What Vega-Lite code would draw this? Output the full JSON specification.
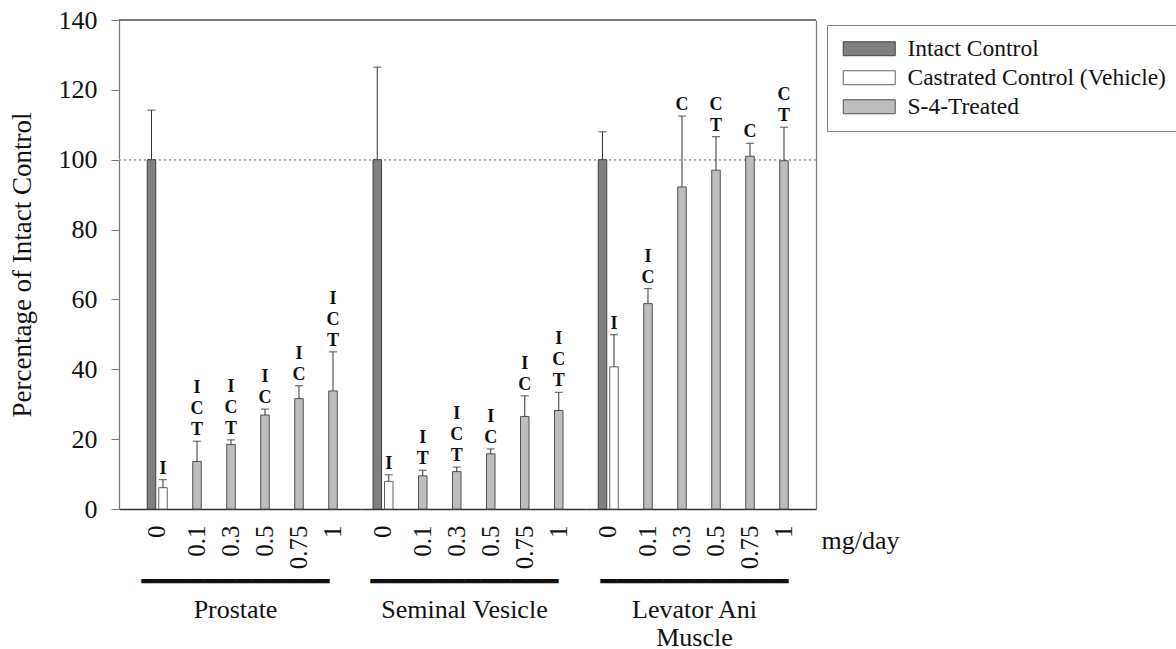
{
  "$schema": "https://vega.github.io/schema/vega-lite/v6.json",
  "background": "white",
  "padding": {"left": 8, "top": 7, "right": 0, "bottom": 0},
  "bounds": "flush",
  "spacing": 0,
  "datasets": {
    "d": [
      {"tissue": "Prostate", "dose": "0", "series": "Intact Control", "value": 100, "upper": 114.2, "sig": ""},
      {"tissue": "Prostate", "dose": "0", "series": "Castrated Control (Vehicle)", "value": 6.1, "upper": 8.4, "sig": "I"},
      {"tissue": "Prostate", "dose": "0.1", "series": "S-4-Treated", "value": 13.6, "upper": 19.4, "sig": "I\nC\nT"},
      {"tissue": "Prostate", "dose": "0.3", "series": "S-4-Treated", "value": 18.5, "upper": 19.8, "sig": "I\nC\nT"},
      {"tissue": "Prostate", "dose": "0.5", "series": "S-4-Treated", "value": 26.9, "upper": 28.6, "sig": "I\nC"},
      {"tissue": "Prostate", "dose": "0.75", "series": "S-4-Treated", "value": 31.6, "upper": 35.3, "sig": "I\nC"},
      {"tissue": "Prostate", "dose": "1", "series": "S-4-Treated", "value": 33.8, "upper": 45.0, "sig": "I\nC\nT"},
      {"tissue": "Seminal Vesicle", "dose": "0", "series": "Intact Control", "value": 100, "upper": 126.5, "sig": ""},
      {"tissue": "Seminal Vesicle", "dose": "0", "series": "Castrated Control (Vehicle)", "value": 7.9, "upper": 9.8, "sig": "I"},
      {"tissue": "Seminal Vesicle", "dose": "0.1", "series": "S-4-Treated", "value": 9.5, "upper": 11.1, "sig": "I\nT"},
      {"tissue": "Seminal Vesicle", "dose": "0.3", "series": "S-4-Treated", "value": 10.7, "upper": 12.0, "sig": "I\nC\nT"},
      {"tissue": "Seminal Vesicle", "dose": "0.5", "series": "S-4-Treated", "value": 15.8, "upper": 17.2, "sig": "I\nC"},
      {"tissue": "Seminal Vesicle", "dose": "0.75", "series": "S-4-Treated", "value": 26.5, "upper": 32.4, "sig": "I\nC"},
      {"tissue": "Seminal Vesicle", "dose": "1", "series": "S-4-Treated", "value": 28.2, "upper": 33.4, "sig": "I\nC\nT"},
      {"tissue": "Levator Ani Muscle", "dose": "0", "series": "Intact Control", "value": 100, "upper": 108.0, "sig": ""},
      {"tissue": "Levator Ani Muscle", "dose": "0", "series": "Castrated Control (Vehicle)", "value": 40.7, "upper": 49.9, "sig": "I"},
      {"tissue": "Levator Ani Muscle", "dose": "0.1", "series": "S-4-Treated", "value": 58.8, "upper": 63.1, "sig": "I\nC"},
      {"tissue": "Levator Ani Muscle", "dose": "0.3", "series": "S-4-Treated", "value": 92.2, "upper": 112.5, "sig": "C"},
      {"tissue": "Levator Ani Muscle", "dose": "0.5", "series": "S-4-Treated", "value": 97.0, "upper": 106.6, "sig": "C\nT"},
      {"tissue": "Levator Ani Muscle", "dose": "0.75", "series": "S-4-Treated", "value": 101.0, "upper": 104.7, "sig": "C"},
      {"tissue": "Levator Ani Muscle", "dose": "1", "series": "S-4-Treated", "value": 99.7, "upper": 109.3, "sig": "C\nT"}
    ]
  },
  "hconcat": [
    {
      "width": 242, "height": 489,
      "data": {"name": "d"},
      "transform": [{"filter": "datum.tissue === 'Prostate'"}],
      "layer": [
        {"mark": {"type": "rule", "color": "#a8a8a8", "strokeDash": [2, 3], "strokeWidth": 1},
         "encoding": {"y": {"datum": 100, "type": "quantitative", "scale": {"domain": [0, 140], "nice": false}}}},
        {"mark": {"type": "rule", "color": "#777777", "strokeWidth": 1.2},
         "encoding": {"y": {"datum": 140, "type": "quantitative", "scale": {"domain": [0, 140], "nice": false}}}},
        {"transform": [{"filter": "datum.series === 'Intact Control'"}],
         "mark": {"type": "bar", "width": 8.5, "xOffset": -11.5, "strokeWidth": 1},
         "encoding": {
           "x": {"field": "dose", "type": "ordinal", "scale": {"domain": ["0", "0.1", "0.3", "0.5", "0.75", "1"], "paddingInner": 0, "paddingOuter": 0.5588, "align": 0.7105},
                 "axis": {"orient": "bottom", "ticks": false, "labelAngle": -90, "labelFont": "Liberation Serif", "labelFontSize": 25, "labelPadding": 16,
                          "labelOffset": {"condition": {"test": "datum.value === '0'", "value": -5.5}, "value": 0},
                          "domainColor": "#333333", "domainWidth": 1.5,
                          "title": ["━━━━━━━━━━━━", "Prostate"], "titleFontSize": 26, "titleLineHeight": 28, "titlePadding": 0, "titleX": 116,
                          "titleFont": "Liberation Serif, DejaVu Sans"}},
           "y": {"field": "value", "type": "quantitative", "scale": {"domain": [0, 140], "nice": false},
                 "axis": {"orient": "left", "values": [0, 20, 40, 60, 80, 100, 120, 140], "tickSize": 8, "labelFont": "Liberation Serif", "labelFontSize": 26, "labelPadding": 14,
                          "title": "Percentage of Intact Control", "titleFont": "Liberation Serif", "titleFontSize": 27, "titlePadding": 22, "domainColor": "#777777", "domainWidth": 1.2}},
           "fill": {"field": "series", "type": "nominal", "scale": {"domain": ["Intact Control", "Castrated Control (Vehicle)", "S-4-Treated"], "range": ["#7f7f7f", "#ffffff", "#bdbdbd"]},
                    "legend": {"orient": "none", "legendX": 708, "legendY": 5, "title": null}},
           "stroke": {"field": "series", "type": "nominal", "scale": {"domain": ["Intact Control", "Castrated Control (Vehicle)", "S-4-Treated"], "range": ["#404040", "#606060", "#505050"]}, "legend": null}
         }},
        {"transform": [{"filter": "datum.series !== 'Intact Control'"}],
         "mark": {"type": "bar", "width": 8.5, "strokeWidth": 1},
         "encoding": {
           "x": {"field": "dose", "type": "ordinal", "scale": {"domain": ["0", "0.1", "0.3", "0.5", "0.75", "1"], "paddingInner": 0, "paddingOuter": 0.5588, "align": 0.7105}},
           "y": {"field": "value", "type": "quantitative", "scale": {"domain": [0, 140], "nice": false}},
           "fill": {"field": "series", "type": "nominal", "scale": {"domain": ["Intact Control", "Castrated Control (Vehicle)", "S-4-Treated"], "range": ["#7f7f7f", "#ffffff", "#bdbdbd"]},
                    "legend": {"orient": "none", "legendX": 708, "legendY": 5, "title": null}},
           "stroke": {"field": "series", "type": "nominal", "scale": {"domain": ["Intact Control", "Castrated Control (Vehicle)", "S-4-Treated"], "range": ["#404040", "#606060", "#505050"]}, "legend": null}
         }},
        {"transform": [{"filter": "datum.series === 'Intact Control'"}],
         "mark": {"type": "rule", "color": "#333333", "strokeWidth": 1, "xOffset": -11.5},
         "encoding": {
           "x": {"field": "dose", "type": "ordinal", "scale": {"domain": ["0", "0.1", "0.3", "0.5", "0.75", "1"], "paddingInner": 0, "paddingOuter": 0.5588, "align": 0.7105}},
           "y": {"field": "value", "type": "quantitative", "scale": {"domain": [0, 140], "nice": false}},
           "y2": {"field": "upper"}}},
        {"transform": [{"filter": "datum.series !== 'Intact Control'"}],
         "mark": {"type": "rule", "color": "#333333", "strokeWidth": 1},
         "encoding": {
           "x": {"field": "dose", "type": "ordinal", "scale": {"domain": ["0", "0.1", "0.3", "0.5", "0.75", "1"], "paddingInner": 0, "paddingOuter": 0.5588, "align": 0.7105}},
           "y": {"field": "value", "type": "quantitative", "scale": {"domain": [0, 140], "nice": false}},
           "y2": {"field": "upper"}}},
        {"transform": [{"filter": "datum.series === 'Intact Control'"}],
         "mark": {"type": "tick", "orient": "horizontal", "size": 8, "thickness": 1.2, "color": "#333333", "xOffset": -11.5},
         "encoding": {
           "x": {"field": "dose", "type": "ordinal", "scale": {"domain": ["0", "0.1", "0.3", "0.5", "0.75", "1"], "paddingInner": 0, "paddingOuter": 0.5588, "align": 0.7105}},
           "y": {"field": "upper", "type": "quantitative", "scale": {"domain": [0, 140], "nice": false}}}},
        {"transform": [{"filter": "datum.series !== 'Intact Control'"}],
         "mark": {"type": "tick", "orient": "horizontal", "size": 8, "thickness": 1.2, "color": "#333333"},
         "encoding": {
           "x": {"field": "dose", "type": "ordinal", "scale": {"domain": ["0", "0.1", "0.3", "0.5", "0.75", "1"], "paddingInner": 0, "paddingOuter": 0.5588, "align": 0.7105}},
           "y": {"field": "upper", "type": "quantitative", "scale": {"domain": [0, 140], "nice": false}}}},
        {"transform": [{"filter": "datum.series !== 'Intact Control' && length(datum.sig) === 1"}],
         "mark": {"type": "text", "font": "Liberation Serif", "fontWeight": "bold", "fontSize": 18, "lineHeight": 21, "baseline": "bottom", "dy": -2, "lineBreak": "\n", "color": "#111111"},
         "encoding": {
           "x": {"field": "dose", "type": "ordinal", "scale": {"domain": ["0", "0.1", "0.3", "0.5", "0.75", "1"], "paddingInner": 0, "paddingOuter": 0.5588, "align": 0.7105}},
           "y": {"field": "upper", "type": "quantitative", "scale": {"domain": [0, 140], "nice": false}},
           "text": {"field": "sig"}}},
        {"transform": [{"filter": "datum.series !== 'Intact Control' && length(datum.sig) === 3"}],
         "mark": {"type": "text", "font": "Liberation Serif", "fontWeight": "bold", "fontSize": 18, "lineHeight": 21, "baseline": "bottom", "dy": -23, "lineBreak": "\n", "color": "#111111"},
         "encoding": {
           "x": {"field": "dose", "type": "ordinal", "scale": {"domain": ["0", "0.1", "0.3", "0.5", "0.75", "1"], "paddingInner": 0, "paddingOuter": 0.5588, "align": 0.7105}},
           "y": {"field": "upper", "type": "quantitative", "scale": {"domain": [0, 140], "nice": false}},
           "text": {"field": "sig"}}},
        {"transform": [{"filter": "datum.series !== 'Intact Control' && length(datum.sig) === 5"}],
         "mark": {"type": "text", "font": "Liberation Serif", "fontWeight": "bold", "fontSize": 18, "lineHeight": 21, "baseline": "bottom", "dy": -44, "lineBreak": "\n", "color": "#111111"},
         "encoding": {
           "x": {"field": "dose", "type": "ordinal", "scale": {"domain": ["0", "0.1", "0.3", "0.5", "0.75", "1"], "paddingInner": 0, "paddingOuter": 0.5588, "align": 0.7105}},
           "y": {"field": "upper", "type": "quantitative", "scale": {"domain": [0, 140], "nice": false}},
           "text": {"field": "sig"}}}
      ]
    },
    {
      "width": 225, "height": 489,
      "data": {"name": "d"},
      "transform": [{"filter": "datum.tissue === 'Seminal Vesicle'"}],
      "layer": [
        {"mark": {"type": "rule", "color": "#a8a8a8", "strokeDash": [2, 3], "strokeWidth": 1},
         "encoding": {"y": {"datum": 100, "type": "quantitative", "scale": {"domain": [0, 140], "nice": false}, "axis": null}}},
        {"mark": {"type": "rule", "color": "#777777", "strokeWidth": 1.2},
         "encoding": {"y": {"datum": 140, "type": "quantitative", "scale": {"domain": [0, 140], "nice": false}, "axis": null}}},
        {"transform": [{"filter": "datum.series === 'Intact Control'"}],
         "mark": {"type": "bar", "width": 8.5, "xOffset": -11.5, "strokeWidth": 1},
         "encoding": {
           "x": {"field": "dose", "type": "ordinal", "scale": {"domain": ["0", "0.1", "0.3", "0.5", "0.75", "1"], "paddingInner": 0, "paddingOuter": 0.3088, "align": 0.512},
                 "axis": {"orient": "bottom", "ticks": false, "labelAngle": -90, "labelFont": "Liberation Serif", "labelFontSize": 25, "labelPadding": 16,
                          "labelOffset": {"condition": {"test": "datum.value === '0'", "value": -5.5}, "value": 0},
                          "domainColor": "#333333", "domainWidth": 1.5,
                          "title": ["━━━━━━━━━━━━", "Seminal Vesicle"], "titleFontSize": 26, "titleLineHeight": 28, "titlePadding": 0, "titleX": 103,
                          "titleFont": "Liberation Serif, DejaVu Sans"}},
           "y": {"field": "value", "type": "quantitative", "scale": {"domain": [0, 140], "nice": false}, "axis": null},
           "fill": {"field": "series", "type": "nominal", "scale": {"domain": ["Intact Control", "Castrated Control (Vehicle)", "S-4-Treated"], "range": ["#7f7f7f", "#ffffff", "#bdbdbd"]},
                    "legend": {"orient": "none", "legendX": 708, "legendY": 5, "title": null}},
           "stroke": {"field": "series", "type": "nominal", "scale": {"domain": ["Intact Control", "Castrated Control (Vehicle)", "S-4-Treated"], "range": ["#404040", "#606060", "#505050"]}, "legend": null}
         }},
        {"transform": [{"filter": "datum.series !== 'Intact Control'"}],
         "mark": {"type": "bar", "width": 8.5, "strokeWidth": 1},
         "encoding": {
           "x": {"field": "dose", "type": "ordinal", "scale": {"domain": ["0", "0.1", "0.3", "0.5", "0.75", "1"], "paddingInner": 0, "paddingOuter": 0.3088, "align": 0.512}},
           "y": {"field": "value", "type": "quantitative", "scale": {"domain": [0, 140], "nice": false}, "axis": null},
           "fill": {"field": "series", "type": "nominal", "scale": {"domain": ["Intact Control", "Castrated Control (Vehicle)", "S-4-Treated"], "range": ["#7f7f7f", "#ffffff", "#bdbdbd"]},
                    "legend": {"orient": "none", "legendX": 708, "legendY": 5, "title": null}},
           "stroke": {"field": "series", "type": "nominal", "scale": {"domain": ["Intact Control", "Castrated Control (Vehicle)", "S-4-Treated"], "range": ["#404040", "#606060", "#505050"]}, "legend": null}
         }},
        {"transform": [{"filter": "datum.series === 'Intact Control'"}],
         "mark": {"type": "rule", "color": "#333333", "strokeWidth": 1, "xOffset": -11.5},
         "encoding": {
           "x": {"field": "dose", "type": "ordinal", "scale": {"domain": ["0", "0.1", "0.3", "0.5", "0.75", "1"], "paddingInner": 0, "paddingOuter": 0.3088, "align": 0.512}},
           "y": {"field": "value", "type": "quantitative", "scale": {"domain": [0, 140], "nice": false}, "axis": null},
           "y2": {"field": "upper"}}},
        {"transform": [{"filter": "datum.series !== 'Intact Control'"}],
         "mark": {"type": "rule", "color": "#333333", "strokeWidth": 1},
         "encoding": {
           "x": {"field": "dose", "type": "ordinal", "scale": {"domain": ["0", "0.1", "0.3", "0.5", "0.75", "1"], "paddingInner": 0, "paddingOuter": 0.3088, "align": 0.512}},
           "y": {"field": "value", "type": "quantitative", "scale": {"domain": [0, 140], "nice": false}, "axis": null},
           "y2": {"field": "upper"}}},
        {"transform": [{"filter": "datum.series === 'Intact Control'"}],
         "mark": {"type": "tick", "orient": "horizontal", "size": 8, "thickness": 1.2, "color": "#333333", "xOffset": -11.5},
         "encoding": {
           "x": {"field": "dose", "type": "ordinal", "scale": {"domain": ["0", "0.1", "0.3", "0.5", "0.75", "1"], "paddingInner": 0, "paddingOuter": 0.3088, "align": 0.512}},
           "y": {"field": "upper", "type": "quantitative", "scale": {"domain": [0, 140], "nice": false}, "axis": null}}},
        {"transform": [{"filter": "datum.series !== 'Intact Control'"}],
         "mark": {"type": "tick", "orient": "horizontal", "size": 8, "thickness": 1.2, "color": "#333333"},
         "encoding": {
           "x": {"field": "dose", "type": "ordinal", "scale": {"domain": ["0", "0.1", "0.3", "0.5", "0.75", "1"], "paddingInner": 0, "paddingOuter": 0.3088, "align": 0.512}},
           "y": {"field": "upper", "type": "quantitative", "scale": {"domain": [0, 140], "nice": false}, "axis": null}}},
        {"transform": [{"filter": "datum.series !== 'Intact Control' && length(datum.sig) === 1"}],
         "mark": {"type": "text", "font": "Liberation Serif", "fontWeight": "bold", "fontSize": 18, "lineHeight": 21, "baseline": "bottom", "dy": -2, "lineBreak": "\n", "color": "#111111"},
         "encoding": {
           "x": {"field": "dose", "type": "ordinal", "scale": {"domain": ["0", "0.1", "0.3", "0.5", "0.75", "1"], "paddingInner": 0, "paddingOuter": 0.3088, "align": 0.512}},
           "y": {"field": "upper", "type": "quantitative", "scale": {"domain": [0, 140], "nice": false}, "axis": null},
           "text": {"field": "sig"}}},
        {"transform": [{"filter": "datum.series !== 'Intact Control' && length(datum.sig) === 3"}],
         "mark": {"type": "text", "font": "Liberation Serif", "fontWeight": "bold", "fontSize": 18, "lineHeight": 21, "baseline": "bottom", "dy": -23, "lineBreak": "\n", "color": "#111111"},
         "encoding": {
           "x": {"field": "dose", "type": "ordinal", "scale": {"domain": ["0", "0.1", "0.3", "0.5", "0.75", "1"], "paddingInner": 0, "paddingOuter": 0.3088, "align": 0.512}},
           "y": {"field": "upper", "type": "quantitative", "scale": {"domain": [0, 140], "nice": false}, "axis": null},
           "text": {"field": "sig"}}},
        {"transform": [{"filter": "datum.series !== 'Intact Control' && length(datum.sig) === 5"}],
         "mark": {"type": "text", "font": "Liberation Serif", "fontWeight": "bold", "fontSize": 18, "lineHeight": 21, "baseline": "bottom", "dy": -44, "lineBreak": "\n", "color": "#111111"},
         "encoding": {
           "x": {"field": "dose", "type": "ordinal", "scale": {"domain": ["0", "0.1", "0.3", "0.5", "0.75", "1"], "paddingInner": 0, "paddingOuter": 0.3088, "align": 0.512}},
           "y": {"field": "upper", "type": "quantitative", "scale": {"domain": [0, 140], "nice": false}, "axis": null},
           "text": {"field": "sig"}}}
      ]
    },
    {
      "width": 230, "height": 489,
      "data": {"name": "d"},
      "transform": [{"filter": "datum.tissue === 'Levator Ani Muscle'"}],
      "layer": [
        {"mark": {"type": "rule", "color": "#a8a8a8", "strokeDash": [2, 3], "strokeWidth": 1},
         "encoding": {"y": {"datum": 100, "type": "quantitative", "scale": {"domain": [0, 140], "nice": false}}}},
        {"mark": {"type": "rule", "color": "#777777", "strokeWidth": 1.2},
         "encoding": {"y": {"datum": 140, "type": "quantitative", "scale": {"domain": [0, 140], "nice": false}}}},
        {"transform": [{"filter": "datum.series === 'Intact Control'"}],
         "mark": {"type": "bar", "width": 8.5, "xOffset": -11.5, "strokeWidth": 1},
         "encoding": {
           "x": {"field": "dose", "type": "ordinal", "scale": {"domain": ["0", "0.1", "0.3", "0.5", "0.75", "1"], "paddingInner": 0, "paddingOuter": 0.3824, "align": 0.423},
                 "axis": {"orient": "bottom", "ticks": false, "labelAngle": -90, "labelFont": "Liberation Serif", "labelFontSize": 25, "labelPadding": 16,
                          "labelOffset": {"condition": {"test": "datum.value === '0'", "value": -5.5}, "value": 0},
                          "domainColor": "#333333", "domainWidth": 1.5,
                          "title": ["━━━━━━━━━━━━", "Levator Ani", "Muscle"], "titleFontSize": 26, "titleLineHeight": 28, "titlePadding": 0, "titleX": 108,
                          "titleFont": "Liberation Serif, DejaVu Sans"}},
           "y": {"field": "value", "type": "quantitative", "scale": {"domain": [0, 140], "nice": false},
                 "axis": {"orient": "right", "labels": false, "ticks": false, "domain": true, "domainColor": "#777777", "domainWidth": 1.2,
                          "title": "mg/day", "titleFont": "Liberation Serif", "titleAngle": 0, "titleAlign": "left", "titleBaseline": "alphabetic", "titleX": 5, "titleY": 528, "titleFontSize": 26}},
           "fill": {"field": "series", "type": "nominal", "scale": {"domain": ["Intact Control", "Castrated Control (Vehicle)", "S-4-Treated"], "range": ["#7f7f7f", "#ffffff", "#bdbdbd"]},
                    "legend": {"orient": "none", "legendX": 708, "legendY": 5, "title": null}},
           "stroke": {"field": "series", "type": "nominal", "scale": {"domain": ["Intact Control", "Castrated Control (Vehicle)", "S-4-Treated"], "range": ["#404040", "#606060", "#505050"]}, "legend": null}
         }},
        {"transform": [{"filter": "datum.series !== 'Intact Control'"}],
         "mark": {"type": "bar", "width": 8.5, "strokeWidth": 1},
         "encoding": {
           "x": {"field": "dose", "type": "ordinal", "scale": {"domain": ["0", "0.1", "0.3", "0.5", "0.75", "1"], "paddingInner": 0, "paddingOuter": 0.3824, "align": 0.423}},
           "y": {"field": "value", "type": "quantitative", "scale": {"domain": [0, 140], "nice": false}},
           "fill": {"field": "series", "type": "nominal", "scale": {"domain": ["Intact Control", "Castrated Control (Vehicle)", "S-4-Treated"], "range": ["#7f7f7f", "#ffffff", "#bdbdbd"]},
                    "legend": {"orient": "none", "legendX": 708, "legendY": 5, "title": null}},
           "stroke": {"field": "series", "type": "nominal", "scale": {"domain": ["Intact Control", "Castrated Control (Vehicle)", "S-4-Treated"], "range": ["#404040", "#606060", "#505050"]}, "legend": null}
         }},
        {"transform": [{"filter": "datum.series === 'Intact Control'"}],
         "mark": {"type": "rule", "color": "#333333", "strokeWidth": 1, "xOffset": -11.5},
         "encoding": {
           "x": {"field": "dose", "type": "ordinal", "scale": {"domain": ["0", "0.1", "0.3", "0.5", "0.75", "1"], "paddingInner": 0, "paddingOuter": 0.3824, "align": 0.423}},
           "y": {"field": "value", "type": "quantitative", "scale": {"domain": [0, 140], "nice": false}},
           "y2": {"field": "upper"}}},
        {"transform": [{"filter": "datum.series !== 'Intact Control'"}],
         "mark": {"type": "rule", "color": "#333333", "strokeWidth": 1},
         "encoding": {
           "x": {"field": "dose", "type": "ordinal", "scale": {"domain": ["0", "0.1", "0.3", "0.5", "0.75", "1"], "paddingInner": 0, "paddingOuter": 0.3824, "align": 0.423}},
           "y": {"field": "value", "type": "quantitative", "scale": {"domain": [0, 140], "nice": false}},
           "y2": {"field": "upper"}}},
        {"transform": [{"filter": "datum.series === 'Intact Control'"}],
         "mark": {"type": "tick", "orient": "horizontal", "size": 8, "thickness": 1.2, "color": "#333333", "xOffset": -11.5},
         "encoding": {
           "x": {"field": "dose", "type": "ordinal", "scale": {"domain": ["0", "0.1", "0.3", "0.5", "0.75", "1"], "paddingInner": 0, "paddingOuter": 0.3824, "align": 0.423}},
           "y": {"field": "upper", "type": "quantitative", "scale": {"domain": [0, 140], "nice": false}}}},
        {"transform": [{"filter": "datum.series !== 'Intact Control'"}],
         "mark": {"type": "tick", "orient": "horizontal", "size": 8, "thickness": 1.2, "color": "#333333"},
         "encoding": {
           "x": {"field": "dose", "type": "ordinal", "scale": {"domain": ["0", "0.1", "0.3", "0.5", "0.75", "1"], "paddingInner": 0, "paddingOuter": 0.3824, "align": 0.423}},
           "y": {"field": "upper", "type": "quantitative", "scale": {"domain": [0, 140], "nice": false}}}},
        {"transform": [{"filter": "datum.series !== 'Intact Control' && length(datum.sig) === 1"}],
         "mark": {"type": "text", "font": "Liberation Serif", "fontWeight": "bold", "fontSize": 18, "lineHeight": 21, "baseline": "bottom", "dy": -2, "lineBreak": "\n", "color": "#111111"},
         "encoding": {
           "x": {"field": "dose", "type": "ordinal", "scale": {"domain": ["0", "0.1", "0.3", "0.5", "0.75", "1"], "paddingInner": 0, "paddingOuter": 0.3824, "align": 0.423}},
           "y": {"field": "upper", "type": "quantitative", "scale": {"domain": [0, 140], "nice": false}},
           "text": {"field": "sig"}}},
        {"transform": [{"filter": "datum.series !== 'Intact Control' && length(datum.sig) === 3"}],
         "mark": {"type": "text", "font": "Liberation Serif", "fontWeight": "bold", "fontSize": 18, "lineHeight": 21, "baseline": "bottom", "dy": -23, "lineBreak": "\n", "color": "#111111"},
         "encoding": {
           "x": {"field": "dose", "type": "ordinal", "scale": {"domain": ["0", "0.1", "0.3", "0.5", "0.75", "1"], "paddingInner": 0, "paddingOuter": 0.3824, "align": 0.423}},
           "y": {"field": "upper", "type": "quantitative", "scale": {"domain": [0, 140], "nice": false}},
           "text": {"field": "sig"}}},
        {"transform": [{"filter": "datum.series !== 'Intact Control' && length(datum.sig) === 5"}],
         "mark": {"type": "text", "font": "Liberation Serif", "fontWeight": "bold", "fontSize": 18, "lineHeight": 21, "baseline": "bottom", "dy": -44, "lineBreak": "\n", "color": "#111111"},
         "encoding": {
           "x": {"field": "dose", "type": "ordinal", "scale": {"domain": ["0", "0.1", "0.3", "0.5", "0.75", "1"], "paddingInner": 0, "paddingOuter": 0.3824, "align": 0.423}},
           "y": {"field": "upper", "type": "quantitative", "scale": {"domain": [0, 140], "nice": false}},
           "text": {"field": "sig"}}}
      ]
    }
  ],
  "resolve": {"scale": {"y": "shared", "fill": "shared", "stroke": "shared", "x": "independent"}},
  "config": {
    "font": "Liberation Serif",
    "view": {"stroke": null},
    "axis": {"labelFont": "Liberation Serif", "titleFont": "Liberation Serif", "labelColor": "#111111", "titleColor": "#111111", "titleFontWeight": "normal", "grid": false, "domainColor": "#777777", "tickColor": "#777777"},
    "legend": {"strokeColor": "#808080", "fillColor": "white", "padding": 12, "labelFont": "Liberation Serif", "labelFontSize": 23.5, "labelColor": "#111111", "labelLimit": 400,
               "symbolType": "M-1,-0.93H5.93V0.93H-1Z", "symbolSize": 225, "symbolStrokeColor": "#555555", "symbolStrokeWidth": 1, "labelOffset": 45, "rowPadding": 4}
  }
}
